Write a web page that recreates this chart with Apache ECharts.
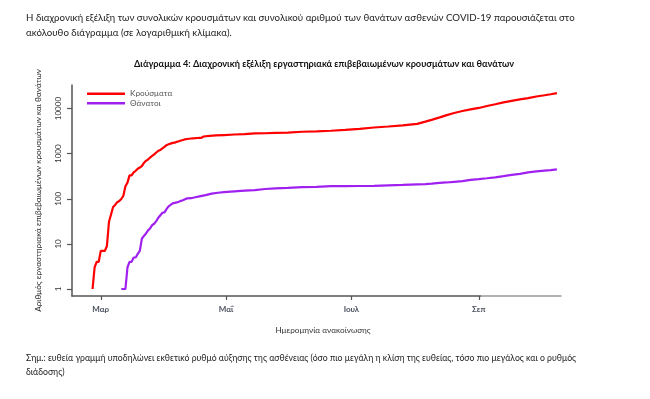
<!DOCTYPE html>
<html>
<head>
<meta charset="utf-8">
<script src="https://cdn.jsdelivr.net/npm/echarts@6/dist/echarts.min.js"></script>
<style>
html,body{margin:0;padding:0;background:#fff;}
#main{width:650px;height:399px;}
</style>
</head>
<body>
<div id="main"></div>
<script>
// ---- data ----
const caseDates = ['2020-02-26','2020-02-27','2020-02-28','2020-02-29','2020-03-01','2020-03-02','2020-03-03','2020-03-04','2020-03-05','2020-03-06','2020-03-07','2020-03-08','2020-03-09','2020-03-10','2020-03-11','2020-03-12','2020-03-13','2020-03-14','2020-03-15','2020-03-16','2020-03-17','2020-03-18','2020-03-19','2020-03-20','2020-03-21','2020-03-22','2020-03-23','2020-03-24','2020-03-25','2020-03-26','2020-03-27','2020-03-28','2020-03-29','2020-03-30','2020-03-31','2020-04-01','2020-04-02','2020-04-03','2020-04-04','2020-04-05','2020-04-06','2020-04-07','2020-04-08','2020-04-09','2020-04-10','2020-04-11','2020-04-12','2020-04-13','2020-04-14','2020-04-15','2020-04-16','2020-04-17','2020-04-18','2020-04-19','2020-04-20','2020-04-23','2020-04-26','2020-04-30','2020-05-05','2020-05-10','2020-05-15','2020-05-20','2020-05-25','2020-05-31','2020-06-07','2020-06-14','2020-06-21','2020-06-28','2020-07-05','2020-07-12','2020-07-19','2020-07-26','2020-08-02','2020-08-06','2020-08-09','2020-08-13','2020-08-16','2020-08-20','2020-08-24','2020-08-28','2020-09-01','2020-09-05','2020-09-09','2020-09-13','2020-09-17','2020-09-21','2020-09-25','2020-09-29','2020-10-03','2020-10-06','2020-10-09'];
const caseValues = [1,3,4,4,7,7,7,9,31,45,66,73,84,89,99,117,190,228,331,331,387,418,464,495,530,624,695,743,821,892,966,1061,1156,1212,1314,1415,1544,1613,1673,1735,1755,1832,1884,1955,2011,2081,2114,2145,2170,2192,2207,2224,2235,2245,2401,2490,2534,2591,2663,2716,2810,2840,2878,2917,3060,3121,3227,3366,3562,3803,4007,4227,4587,5123,5623,6381,7075,7975,8819,9558,10317,11386,12452,13731,14813,15928,17062,18500,19700,20800,22000];

const deathDates = ['2020-03-11','2020-03-12','2020-03-13','2020-03-14','2020-03-15','2020-03-16','2020-03-17','2020-03-18','2020-03-19','2020-03-20','2020-03-21','2020-03-22','2020-03-23','2020-03-24','2020-03-25','2020-03-26','2020-03-27','2020-03-28','2020-03-29','2020-03-30','2020-03-31','2020-04-01','2020-04-02','2020-04-03','2020-04-04','2020-04-05','2020-04-06','2020-04-07','2020-04-08','2020-04-09','2020-04-10','2020-04-11','2020-04-12','2020-04-14','2020-04-16','2020-04-18','2020-04-21','2020-04-24','2020-04-27','2020-04-30','2020-05-05','2020-05-10','2020-05-15','2020-05-20','2020-05-25','2020-05-31','2020-06-07','2020-06-14','2020-06-21','2020-06-28','2020-07-05','2020-07-12','2020-07-19','2020-07-26','2020-08-02','2020-08-06','2020-08-09','2020-08-13','2020-08-16','2020-08-20','2020-08-24','2020-08-28','2020-09-01','2020-09-05','2020-09-09','2020-09-13','2020-09-17','2020-09-21','2020-09-25','2020-09-29','2020-10-03','2020-10-06','2020-10-09'];
const deathValues = [1,1,1,3,4,4,5,5,6,7,13,15,17,20,22,26,28,32,38,43,49,50,59,68,73,79,81,83,86,90,93,98,102,103,108,113,121,130,136,140,146,151,155,165,171,175,182,184,190,191,192,193,198,203,209,212,216,226,230,238,246,262,273,285,299,317,338,357,385,405,420,432,450];

const xTickDates = ['2020-03-01','2020-05-01','2020-07-01','2020-09-01'];
const xTickLabels = ['Μαρ','Μαΐ','Ιουλ','Σεπ'];
const yTickValues = [1,10,100,1000,10000];
const yTickLabels = ['1','10','100','1000','10000'];

const seriesNames = ['Κρούσματα','Θάνατοι'];
const seriesColors = ['#ff0000','#a020f0'];

const FONT = 'Lato';
const toTs = d => +new Date(d + 'T00:00:00Z');
const xTickTs = xTickDates.map(toTs);

const chart = echarts.init(document.getElementById('main'), null, {renderer:'canvas'});
const xLineColor = new echarts.graphic.LinearGradient(0, 0, 1, 0, [
  {offset: 0, color: '#555'}, {offset: 0.833, color: '#555'},
  {offset: 0.834, color: '#999'}, {offset: 1, color: '#999'}
]);
const option = {
  backgroundColor: '#ffffff',
  animation: false,
  textStyle: {fontFamily: FONT},
  title: {
    text: 'Διάγραμμα 4: Διαχρονική εξέλιξη εργαστηριακά επιβεβαιωμένων κρουσμάτων και θανάτων',
    left: 324, top: 60, textAlign: 'center', padding: 0,
    textStyle: {fontFamily: FONT, fontSize: 9.2, fontWeight: 'bold', color: '#111'}
  },
  legend: {
    orient: 'vertical', left: 87, top: 89, padding: 0, itemWidth: 38, itemHeight: 2.5, itemGap: 0,
    icon: 'rect',
    textStyle: {fontFamily: FONT, fontSize: 8.2, color: '#555', lineHeight: 9.5},
    data: seriesNames
  },
  grid: {left: 72, right: 89, top: 85, bottom: 103, containLabel: false},
  xAxis: {
    type: 'value',
    min: toTs('2020-02-16'),
    max: toTs('2020-10-11'),
    axisLine: {show: true, lineStyle: {color: xLineColor, width: 1.5}},
    axisTick: {show: true, length: 4, lineStyle: {color: '#555', width: 1.2}, customValues: xTickTs},
    axisLabel: {
      customValues: xTickTs,
      formatter: function (v) {
        const i = xTickTs.indexOf(v);
        return i >= 0 ? xTickLabels[i] : '';
      },
      fontFamily: FONT, fontSize: 8, fontWeight: 'bold', color: '#4a4f5c', margin: 9
    },
    splitLine: {show: false}
  },
  yAxis: {
    type: 'log',
    logBase: 10,
    min: 0.7,
    max: 33300,
    name: 'Αριθμός εργαστηριακά επιβεβαιωμένων κρουσμάτων και θανάτων',
    nameLocation: 'middle',
    nameGap: 30,
    nameTextStyle: {fontFamily: FONT, fontSize: 8.2, color: '#333'},
    axisLine: {show: true, lineStyle: {color: '#555', width: 1.5}},
    axisTick: {show: true, length: 5, lineStyle: {color: '#555', width: 1.2}, customValues: yTickValues},
    axisLabel: {
      customValues: yTickValues,
      rotate: 90,
      formatter: function (v) {
        const i = yTickValues.findIndex(t => Math.abs(t - v) / t < 1e-6);
        return i >= 0 ? yTickLabels[i] : '';
      },
      fontFamily: FONT, fontSize: 8, color: '#333', margin: 10
    },
    splitLine: {show: false}
  },
  series: [
    {
      name: seriesNames[0], type: 'line', showSymbol: false, symbol: 'none',
      lineStyle: {color: seriesColors[0], width: 2.2}, itemStyle: {color: seriesColors[0]},
      data: caseDates.map((d, i) => [toTs(d), caseValues[i]])
    },
    {
      name: seriesNames[1], type: 'line', showSymbol: false, symbol: 'none',
      lineStyle: {color: seriesColors[1], width: 2.2}, itemStyle: {color: seriesColors[1]},
      data: deathDates.map((d, i) => [toTs(d), deathValues[i]])
    }
  ],
  graphic: [
    {type: 'text', left: 26, top: 13, style: {text: 'Η διαχρονική εξέλιξη των συνολικών κρουσμάτων και συνολικού αριθμού των θανάτων ασθενών COVID-19 παρουσιάζεται στο', font: '9.7px ' + FONT, fill: '#222'}},
    {type: 'text', left: 26, top: 28, style: {text: 'ακόλουθο διάγραμμα (σε λογαριθμική κλίμακα).', font: '9.7px ' + FONT, fill: '#222'}},
    {type: 'text', x: 323, y: 330, style: {text: 'Ημερομηνία ανακοίνωσης', font: '8.2px ' + FONT, fill: '#333', align: 'center', verticalAlign: 'middle'}},
    {type: 'text', left: 26, top: 354, style: {text: 'Σημ.: ευθεία γραμμή υποδηλώνει εκθετικό ρυθμό αύξησης της ασθένειας (όσο πιο μεγάλη η κλίση της ευθείας, τόσο πιο μεγάλος και ο ρυθμός', font: '8.7px ' + FONT, fill: '#222'}},
    {type: 'text', left: 26, top: 368, style: {text: 'διάδοσης)', font: '8.7px ' + FONT, fill: '#222'}}
  ]
};
chart.setOption(option);
</script>
</body>
</html>
